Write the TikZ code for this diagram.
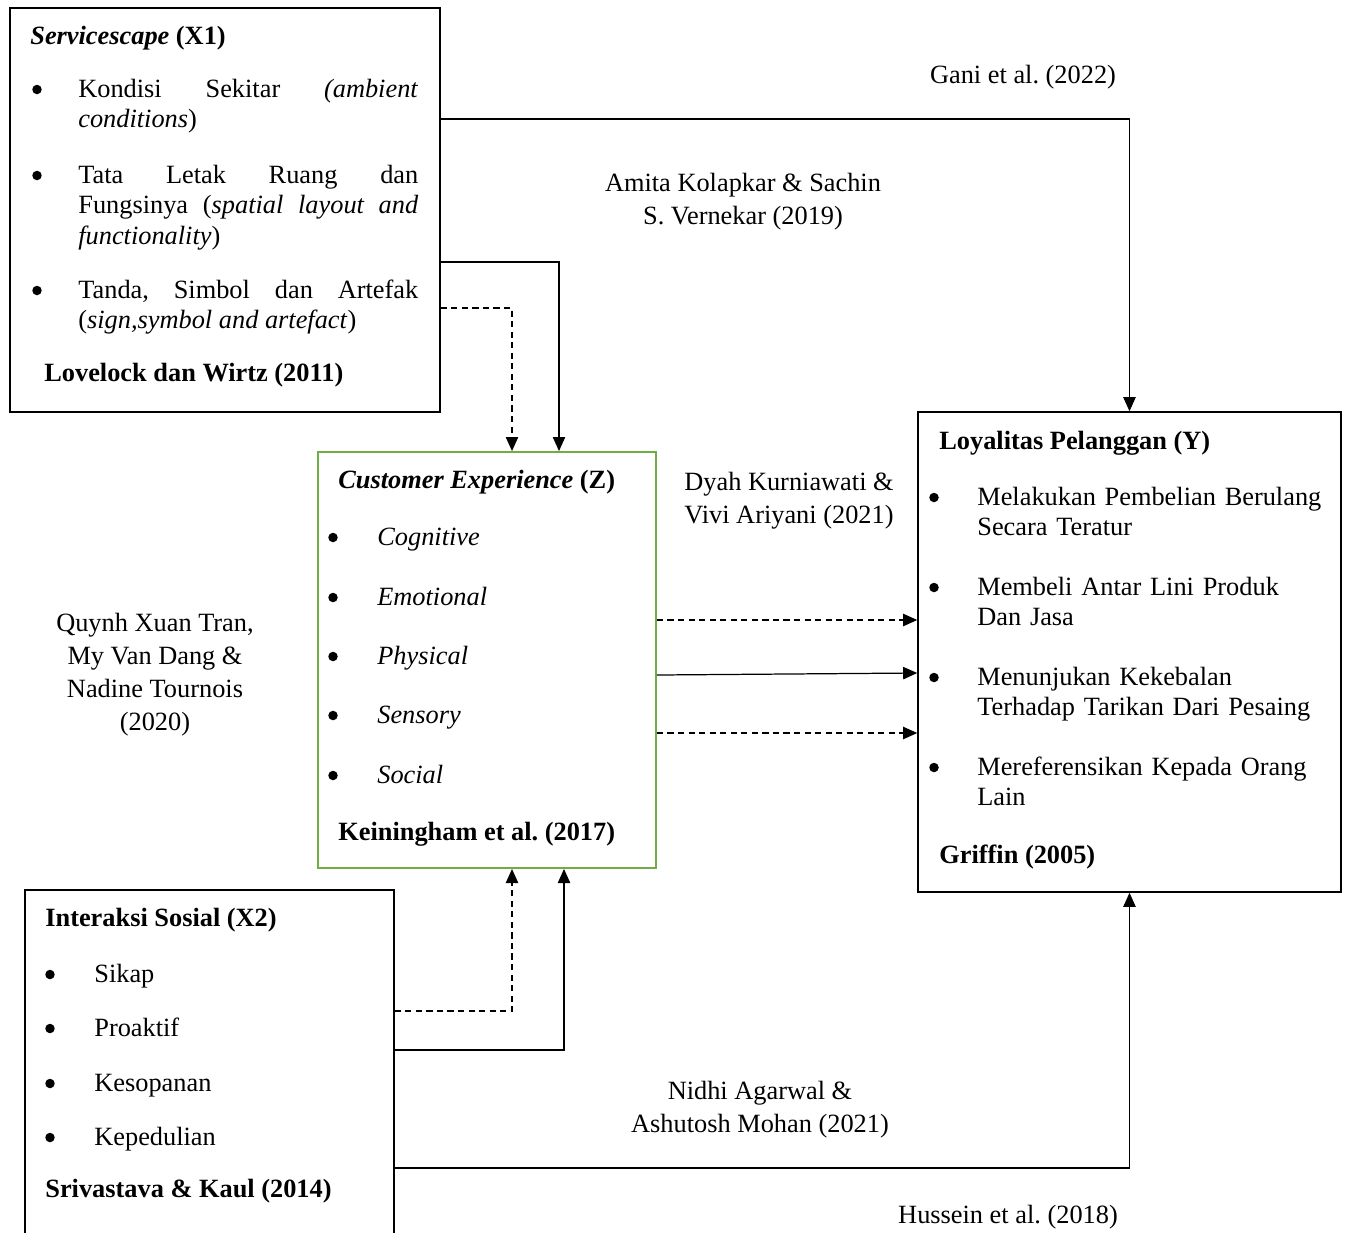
\documentclass[tikz,border=0pt]{standalone}
\usepackage{fontspec}
\setmainfont{Liberation Serif}
\usetikzlibrary{arrows.meta, positioning}
\definecolor{cxgreen}{RGB}{112, 173, 71}
\hyphenpenalty=10000
\exhyphenpenalty=10000
\frenchspacing

\begin{document}
\begin{tikzpicture}[
    x=0.02cm, y=-0.02cm,
    varbox/.style={rectangle, draw=black, line width=0.9pt, inner sep=0pt},
    bodytext/.style={anchor=base west, inner sep=0pt, yshift=-0.04cm, font=\fontsize{15}{17.6}\selectfont},
    bul/.style={circle, fill=black, inner sep=0pt, minimum size=0.19cm, yshift=0.11cm},
    cite/.style={align=center, inner sep=0pt, yshift=-0.05cm, font=\fontsize{15}{18.7}\selectfont},
    arrow/.style={line width=0.7pt, -{Triangle[length=8pt,width=7pt]}},
    dasharrow/.style={arrow, dash pattern=on 3.5pt off 2.5pt}
]
\clip (0,0) rectangle (1349,1232);

% Boxes
\node (servicescape) [varbox, minimum width=8.6cm, minimum height=8.08cm] at (225,210) {};
\node (experience) [varbox, draw=cxgreen, line width=1.1pt, minimum width=6.76cm, minimum height=8.32cm] at (487,660) {};
\node (loyalty) [varbox, minimum width=8.46cm, minimum height=9.6cm] at (1129.5,652) {};
\node (social) [varbox, minimum width=7.38cm, minimum height=7.4cm] at (209.5,1075) {};

% Servicescape (X1)
\node (x1title) [bodytext] at (30,42) {\textbf{\textit{Servicescape} (X1)}};
\foreach \y [count=\i] in {95,181,296} {
    \node (x1bul\i) [bul] at (37,\y) {};
}
\node (x1a) [bodytext, text width=6.8cm, align=justify] at (78,95) {Kondisi Sekitar \textit{(ambient}\linebreak\textit{conditions})};
\node (x1b) [bodytext, text width=6.8cm, align=justify] at (78,181) {Tata Letak Ruang dan\linebreak Fungsinya (\textit{spatial layout and}\linebreak\textit{functionality})};
\node (x1c) [bodytext, text width=6.8cm, align=justify] at (78,296) {Tanda, Simbol dan Artefak\linebreak(\textit{sign,symbol and artefact})};
\node (x1src) [bodytext] at (44,379) {\textbf{Lovelock dan Wirtz (2011)}};

% Customer Experience (Z)
\node (ztitle) [bodytext] at (338,486) {\textbf{\textit{Customer Experience} (Z)}};
\foreach \y/\t [count=\i] in {543/Cognitive, 603/Emotional, 662/Physical, 721/Sensory, 781/Social} {
    \node (zbul\i) [bul] at (333,\y) {};
    \node (zitem\i) [bodytext] at (377,\y) {\textit{\t}};
}
\node (zsrc) [bodytext] at (338,838) {\textbf{Keiningham et al. (2017)}};

% Loyalitas Pelanggan (Y)
\node (ytitle) [bodytext] at (939,447) {\textbf{Loyalitas Pelanggan (Y)}};
\foreach \y/\t [count=\i] in {503/{Melakukan Pembelian Berulang\\Secara Teratur},
                              593/{Membeli Antar Lini Produk\\Dan Jasa},
                              683/{Menunjukan Kekebalan\\Terhadap Tarikan Dari Pesaing},
                              773/{Mereferensikan Kepada Orang\\Lain}} {
    \node (ybul\i) [bul] at (934,\y) {};
    \node (yitem\i) [bodytext, text width=7.5cm, align=left] at (977,\y) {\t};
}
\node (ysrc) [bodytext] at (939,861) {\textbf{Griffin (2005)}};

% Interaksi Sosial (X2)
\node (x2title) [bodytext] at (45,924) {\textbf{Interaksi Sosial (X2)}};
\foreach \y/\t [count=\i] in {980/Sikap, 1034/Proaktif, 1089/Kesopanan, 1143/Kepedulian} {
    \node (x2bul\i) [bul] at (50,\y) {};
    \node (x2item\i) [bodytext] at (94,\y) {\t};
}
\node (x2src) [bodytext] at (45,1195) {\textbf{Srivastava \& Kaul (2014)}};

% Citations
\node (gani) [cite] at (1023,75) {Gani et al. (2022)};
\node (amita) [cite] at (743,199) {Amita Kolapkar \& Sachin\\S. Vernekar (2019)};
\node (dyah) [cite] at (789,498) {Dyah Kurniawati \&\\Vivi Ariyani (2021)};
\node (quynh) [cite] at (155,672) {Quynh Xuan Tran,\\My Van Dang \&\\Nadine Tournois\\(2020)};
\node (nidhi) [cite] at (760,1107) {Nidhi Agarwal \&\\Ashutosh Mohan (2021)};
\node (hussein) [cite] at (1008,1215) {Hussein et al. (2018)};

% Arrows
\draw [arrow] (servicescape.east |- 0,119) -| (loyalty.north);
\draw [arrow] (servicescape.east |- 0,262) -| (559,0 |- experience.north);
\draw [dasharrow] (servicescape.east |- 0,308) -| (512,0 |- experience.north);
\draw [dasharrow] (experience.east |- 0,620) -- (loyalty.west |- 0,620);
\draw [arrow] (experience.east |- 0,675) -- (loyalty.west |- 0,673);
\draw [dasharrow] (experience.east |- 0,733) -- (loyalty.west |- 0,733);
\draw [dasharrow] (social.east |- 0,1011) -| (512,0 |- experience.south);
\draw [arrow] (social.east |- 0,1050) -| (564,0 |- experience.south);
\draw [arrow] (social.east |- 0,1168) -| (loyalty.south);

\end{tikzpicture}
\end{document}
